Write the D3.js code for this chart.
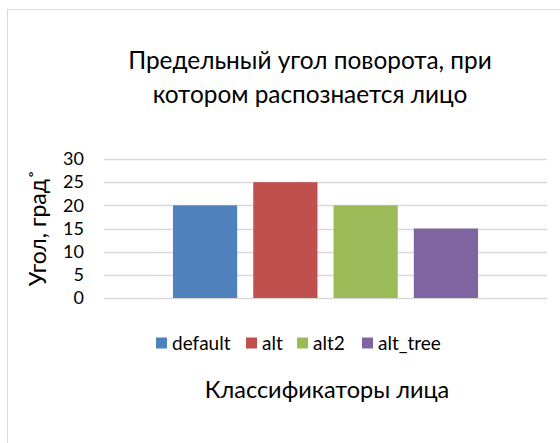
<!DOCTYPE html>
<html>
<head>
<meta charset="utf-8">
<script src="https://cdn.jsdelivr.net/npm/d3@7"></script>
<style>
  body { margin: 0; background: #fff; }
  text { font-family: "Lato", "Open Sans", sans-serif; fill: #000; }
</style>
</head>
<body>
<div id="chart"></div>
<script>
// data
const categories = ["Классификаторы лица"];
const seriesNames = ["default", "alt", "alt2", "alt_tree"];
const seriesValues = [20, 25, 20, 15];
const seriesColors = ["#4f81bd", "#c0504d", "#9bbb59", "#8064a2"];
const yTicks = [0, 5, 10, 15, 20, 25, 30];

const W = 560, H = 443;
const margin = { top: 159, right: 13, bottom: 145, left: 104 };
const width = W - margin.left - margin.right;
const height = H - margin.top - margin.bottom;

const svg = d3.select("#chart")
  .append("svg")
    .attr("width", W)
    .attr("height", H);

// chart area border (cut off on right/bottom)
svg.append("rect")
  .attr("x", 7.5).attr("y", 9.5)
  .attr("width", 600).attr("height", 500)
  .attr("fill", "#fff")
  .attr("stroke", "#d9d9d9")
  .attr("stroke-width", 1);

const g = svg.append("g")
  .attr("transform", `translate(${margin.left},${margin.top})`);

const y = d3.scaleLinear().domain([0, 30]).range([height, 0]);
const x0 = d3.scaleBand().domain(categories).range([0, width]).paddingInner(0).paddingOuter(0.226);
const x1 = d3.scaleBand().domain(seriesNames).range([0, x0.bandwidth()]).paddingInner(0.2).paddingOuter(0);

// gridlines
g.selectAll(".grid")
  .data(yTicks)
  .join("line")
  .attr("x1", 0).attr("x2", width)
  .attr("y1", d => Math.round(y(d)) + 0.5)
  .attr("y2", d => Math.round(y(d)) + 0.5)
  .attr("stroke", "#d9d9d9")
  .attr("stroke-width", 1.5);

// y axis
const yAxis = g.append("g")
  .call(d3.axisLeft(y).tickValues(yTicks).tickSize(0).tickPadding(20));
yAxis.select(".domain").remove();
yAxis.selectAll("text")
  .style("font-size", "18px")
  .style("font-family", "Lato, 'Open Sans', sans-serif")
  .attr("fill", "#000");

// bars
g.selectAll(".bar")
  .data(seriesValues)
  .join("rect")
  .attr("x", (d, i) => x0(categories[0]) + x1(seriesNames[i]))
  .attr("y", d => y(d))
  .attr("width", x1.bandwidth())
  .attr("height", d => height - y(d))
  .attr("fill", (d, i) => seriesColors[i]);

// title
svg.append("text")
  .attr("x", 310).attr("y", 69)
  .attr("text-anchor", "middle")
  .style("font-size", "24.4px")
  .text("Предельный угол поворота, при");
svg.append("text")
  .attr("x", 310).attr("y", 103)
  .attr("text-anchor", "middle")
  .style("font-size", "24.4px")
  .text("котором распознается лицо");

// y axis title
svg.append("text")
  .attr("transform", "translate(46,228) rotate(-90)")
  .attr("text-anchor", "middle")
  .style("font-size", "23px")
  .text("Угол, град˚");

// legend
const legendX = [156, 246, 297, 362];
const legend = svg.append("g").attr("transform", "translate(0,343)");
seriesNames.forEach((name, i) => {
  const lg = legend.append("g").attr("transform", `translate(${legendX[i]},0)`);
  lg.append("rect").attr("x", 0).attr("y", -5.5).attr("width", 11).attr("height", 11).attr("fill", seriesColors[i]);
  lg.append("text").attr("x", 16).attr("y", 6.5).style("font-size", "19px").text(name);
});

// x axis title
svg.append("text")
  .attr("x", 327).attr("y", 398)
  .attr("text-anchor", "middle")
  .style("font-size", "23.5px")
  .text(categories[0]);
</script>
</body>
</html>
